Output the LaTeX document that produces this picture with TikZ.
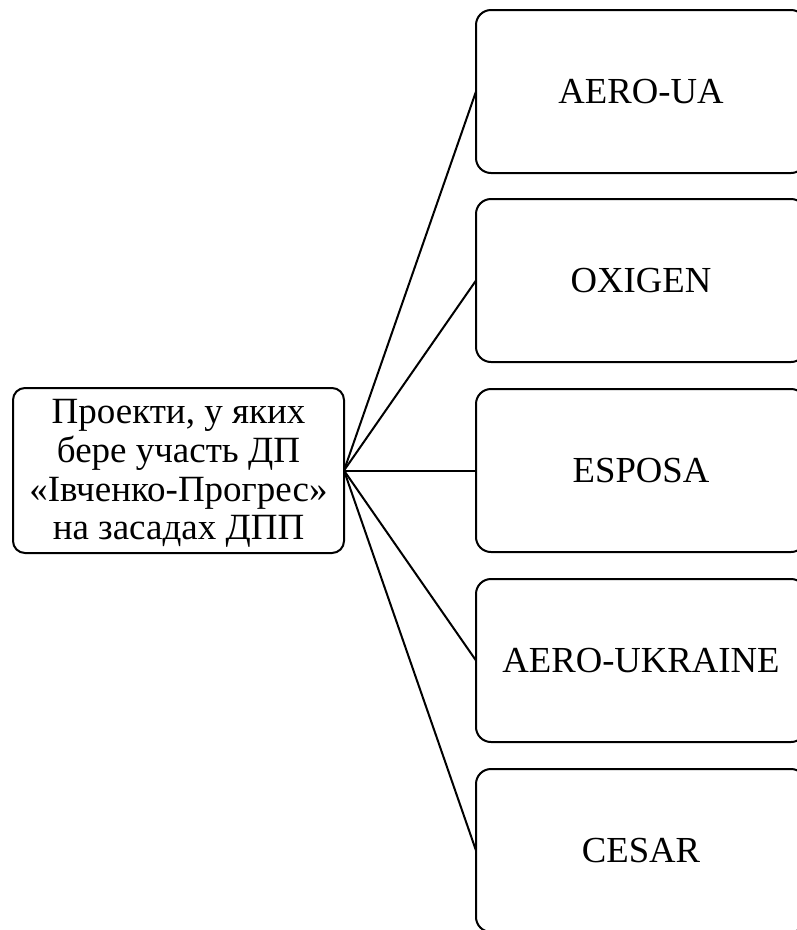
\documentclass[tikz,border=0pt]{standalone}
\usepackage{fontspec}
\setmainfont{Liberation Serif}
\begin{document}
\begin{tikzpicture}[x=1pt,y=-1pt,
  every node/.style={inner sep=0pt, outer sep=0pt},
  rootbox/.style={draw, line width=2pt, rounded corners=12pt, minimum width=331pt, minimum height=165pt},
  roottext/.style={align=center, font=\fontsize{37}{38.7}\selectfont},
  itembox/.style={draw, line width=2pt, rounded corners=15pt, minimum width=330pt, minimum height=163pt, align=center, font=\fontsize{36.7}{40}\selectfont},
  link/.style={line width=2pt}]
\useasboundingbox (0,0) rectangle (797,930);
\node[rootbox] (root) at (178.5,470.5) {};
\node[roottext] (rootlabel) at (178.5,473.5) {Проекти, у яких\\бере участь ДП\\«Івченко-Прогрес»\\на засадах ДПП};
\node[itembox] (a) at (641,91.5) {AERO-UA};
\node[itembox] (b) at (641,280.5) {OXIGEN};
\node[itembox] (c) at (641,470.5) {ESPOSA};
\node[itembox] (d) at (641,660.5) {AERO-UKRAINE};
\node[itembox] (e) at (641,850.5) {CESAR};
\foreach \n in {a,b,c,d,e} \draw[link] (root.east) -- (\n.west);
\end{tikzpicture}
\end{document}
